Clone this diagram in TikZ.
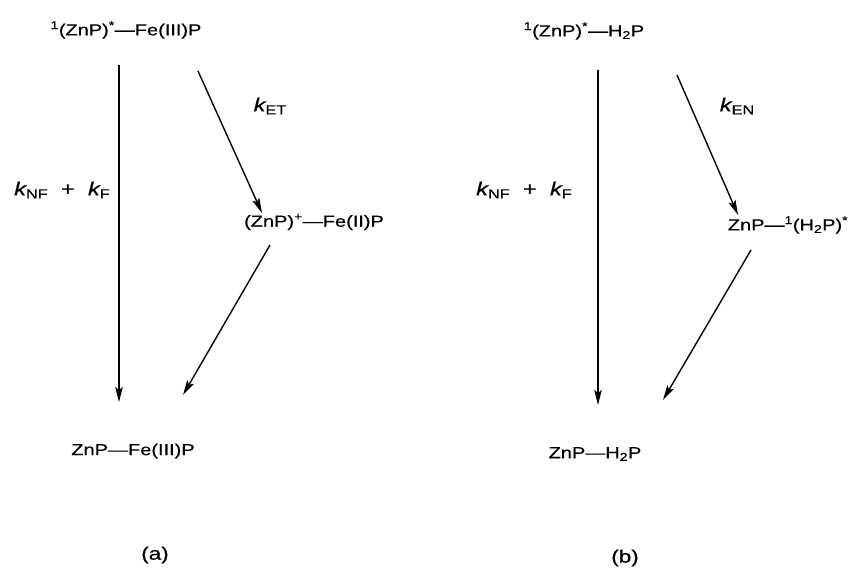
\documentclass[tikz,border=0pt]{standalone}
\usepackage{fontspec}
\setmainfont{Liberation Sans}[FakeStretch=1.25,FakeBold=0.6]
\usetikzlibrary{arrows.meta,calc}
\newcommand{\rk}[1]{{\itshape k}\raisebox{-0.3ex}{\fontsize{13}{13}\selectfont #1}}
\begin{document}
\begin{tikzpicture}[x=1pt,y=-1pt,
  lab/.style={inner sep=0pt,font=\fontsize{16}{19}\selectfont},
  klab/.style={inner sep=0pt,font=\fontsize{19}{22}\selectfont},
  panellab/.style={inner sep=0pt,font=\fontsize{18}{21}\selectfont},
  arr/.style={line width=1.4pt,-{Stealth[length=15pt,width=7.5pt,inset=3pt]}}]
\useasboundingbox (0,0) rectangle (850,569);
% (a)
\node[lab] (a1) at (126,30) {\textsuperscript{1}(ZnP)\textsuperscript{*}—Fe(III)P};
\node[lab] (a2) at (314,222) {(ZnP)\textsuperscript{+}—Fe(II)P};
\node[lab] (a3) at (133,451) {ZnP—Fe(III)P};
\node[klab] (ket) at (270,106) {\rk{ET}};
\node[klab] (knfa) at (62,190) {\rk{NF}\ \ +\ \ \rk{F}};
\node[panellab] (capa) at (155,555) {(a)};
\draw[arr] ($(a1)+(-7,35)$) -- ($(a3)+(-14,-49)$);
\draw[arr] ($(a1)+(72,41)$) -- ($(a2)+(-52,-9)$);
\draw[arr] ($(a2)+(-44,23)$) -- ($(a3)+(50,-56)$);
% (b)
\node[lab] (b1) at (584,31) {\textsuperscript{1}(ZnP)\textsuperscript{*}—H\textsubscript{2}P};
\node[lab] (b2) at (788,225) {ZnP—\textsuperscript{1}(H\textsubscript{2}P)\textsuperscript{*}};
\node[lab] (b3) at (595,454) {ZnP—H\textsubscript{2}P};
\node[klab] (ken) at (737,106) {\rk{EN}};
\node[klab] (knfb) at (524,190) {\rk{NF}\ \ +\ \ \rk{F}};
\node[panellab] (capb) at (625,558) {(b)};
\draw[arr] ($(b1)+(14,39)$) -- ($(b3)+(3,-49)$);
\draw[arr] ($(b1)+(93,44)$) -- ($(b2)+(-50,-10)$);
\draw[arr] ($(b2)+(-37,25)$) -- ($(b3)+(68,-54)$);
\end{tikzpicture}
\end{document}
